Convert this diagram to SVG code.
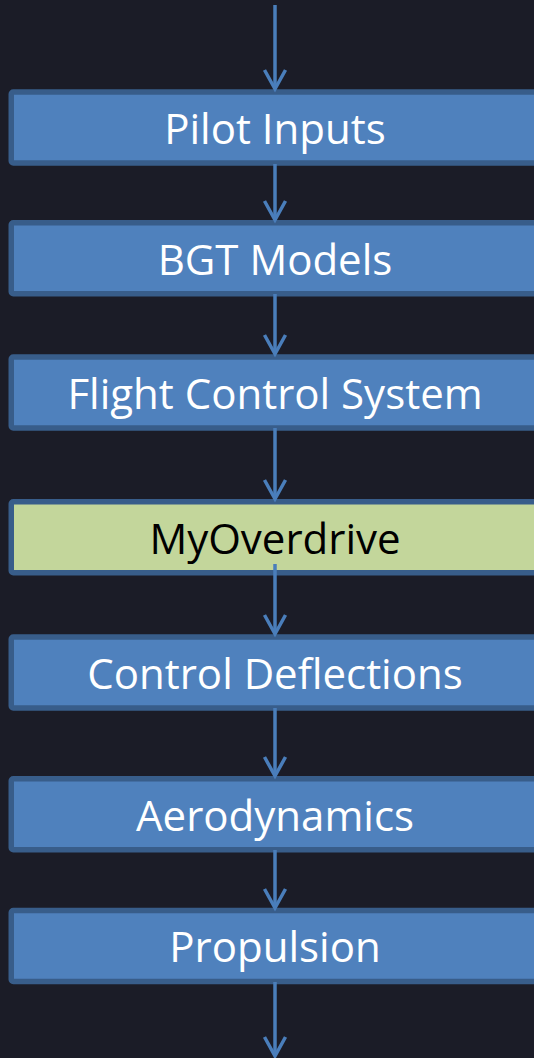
<svg xmlns="http://www.w3.org/2000/svg" width="534" height="1058" viewBox="0 0 534 1058">
<defs>
<style>
.bg{fill:#1b1c27}
.box{fill:#4f81bd;stroke:#385d8a;stroke-width:5.5}
.green{fill:#c3d69b;stroke:#385d8a;stroke-width:5.5}
.lbl{font-family:"Open Sans","Noto Sans",sans-serif;font-size:42px;fill:#ffffff;text-anchor:middle}
.dark{fill:#000000}
.conn{stroke:#4a7ebb;stroke-width:3.5;fill:none;marker-end:url(#arr)}
</style>
<marker id="arr" markerUnits="userSpaceOnUse" markerWidth="28" markerHeight="28" viewBox="-24 -14 28 28" refX="0" refY="0" orient="auto" overflow="visible">
<path d="M-19,-10.5 L0,0 L-19,10.5" fill="none" stroke="#4a7ebb" stroke-width="3.5" stroke-linejoin="miter"/>
</marker>
</defs>
<rect class="bg" x="0" y="0" width="534" height="1058"/>
<g id="pilot-inputs">
<rect class="box" x="11.25" y="92" width="540" height="71" rx="2"/>
<text class="lbl" x="275" y="144">Pilot Inputs</text>
</g>
<g id="bgt-models">
<rect class="box" x="11.25" y="222.75" width="540" height="71" rx="2"/>
<text class="lbl" x="275" y="275">BGT Models</text>
</g>
<g id="flight-control-system">
<rect class="box" x="11.25" y="357" width="540" height="71" rx="2"/>
<text class="lbl" x="275" y="409">Flight Control System</text>
</g>
<g id="myoverdrive">
<rect class="green" x="11.25" y="501.75" width="540" height="71" rx="2"/>
<text class="lbl dark" x="275" y="554">MyOverdrive</text>
</g>
<g id="control-deflections">
<rect class="box" x="11.25" y="637" width="540" height="71" rx="2"/>
<text class="lbl" x="275" y="689">Control Deflections</text>
</g>
<g id="aerodynamics">
<rect class="box" x="11.25" y="778.75" width="540" height="71" rx="2"/>
<text class="lbl" x="275" y="831">Aerodynamics</text>
</g>
<g id="propulsion">
<rect class="box" x="11.25" y="910.5" width="540" height="71" rx="2"/>
<text class="lbl" x="275" y="962">Propulsion</text>
</g>
<g id="connectors">
<line class="conn" x1="275" y1="5" x2="275" y2="89"/>
<line class="conn" x1="275" y1="164" x2="275" y2="220"/>
<line class="conn" x1="275" y1="294" x2="275" y2="354"/>
<line class="conn" x1="275" y1="428" x2="275" y2="499"/>
<line class="conn" x1="275" y1="564" x2="275" y2="634"/>
<line class="conn" x1="275" y1="708" x2="275" y2="776"/>
<line class="conn" x1="275" y1="850" x2="275" y2="908"/>
<line class="conn" x1="275" y1="982" x2="275" y2="1056"/>
</g>
</svg>
